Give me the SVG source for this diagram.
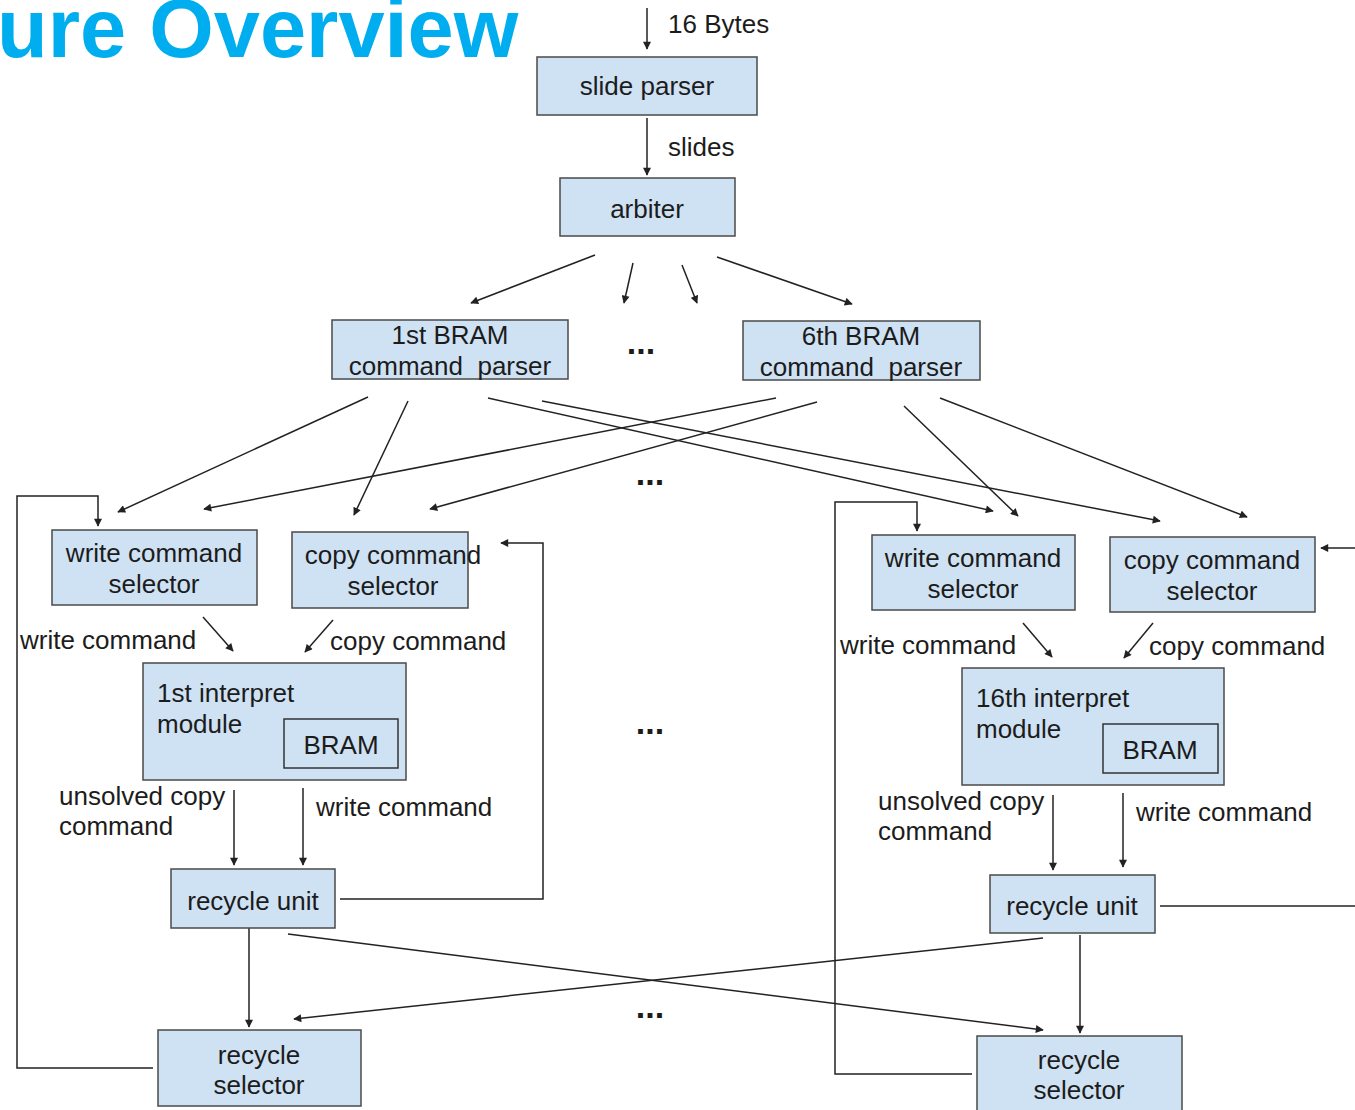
<svg xmlns="http://www.w3.org/2000/svg" width="1355" height="1110" viewBox="0 0 1355 1110">
  <defs>
    <style>
      .box { fill: #cfe2f3; stroke: #4a4a4a; stroke-width: 1.5; }
      .inner { fill: none; stroke: #333; stroke-width: 1.5; }
      .t { font-family: "Liberation Sans", Arial, sans-serif; font-size: 26px; fill: #1c1c1c; }
      .c { text-anchor: middle; }
      .dots { font-family: "Liberation Sans", Arial, sans-serif; font-size: 34px; font-weight: bold; fill: #1c1c1c; text-anchor: middle; }
      .title { font-family: "Liberation Sans", Arial, sans-serif; font-size: 83px; font-weight: bold; fill: #00aeef; }
      .ln { fill: none; stroke: #222; stroke-width: 1.5; }
      .ar { fill: none; stroke: #222; stroke-width: 1.5; marker-end: url(#head); }
    </style>
    <marker id="head" viewBox="0 0 10 10" refX="9" refY="5" markerWidth="9" markerHeight="8" markerUnits="userSpaceOnUse" orient="auto">
      <path d="M0,0 L10,5 L0,10 z" fill="#222"/>
    </marker>
  </defs>

  <rect width="1355" height="1110" fill="#ffffff"/>

  <!-- slide title (runs off the left edge of the slide) -->
  <text class="title" x="-3" y="57">ure Overview</text>

  <!-- connectors -->
  <g id="connectors">
    <!-- input and slide path -->
    <line class="ar" x1="647" y1="8" x2="647" y2="49"/>
    <line class="ar" x1="647" y1="118" x2="647" y2="175"/>
    <!-- arbiter fan-out -->
    <line class="ar" x1="595" y1="255" x2="471" y2="303"/>
    <line class="ar" x1="633" y1="263" x2="624" y2="303"/>
    <line class="ar" x1="682" y1="265" x2="697" y2="303"/>
    <line class="ar" x1="717" y1="257" x2="852" y2="304"/>
    <!-- 1st BRAM command parser outputs -->
    <line class="ar" x1="368" y1="397" x2="118" y2="512"/>
    <line class="ar" x1="408" y1="401" x2="354" y2="515"/>
    <line class="ar" x1="488" y1="398" x2="993" y2="511"/>
    <line class="ar" x1="542" y1="401" x2="1160" y2="521"/>
    <!-- 6th BRAM command parser outputs -->
    <line class="ar" x1="776" y1="398" x2="204" y2="509"/>
    <line class="ar" x1="817" y1="402" x2="430" y2="509"/>
    <line class="ar" x1="904" y1="406" x2="1018" y2="516"/>
    <line class="ar" x1="940" y1="398" x2="1247" y2="517"/>

    <!-- left column -->
    <polyline class="ar" points="153,1068 17,1068 17,496 98,496 98,526"/>
    <polyline class="ar" points="340,899 543,899 543,543 501,543"/>
    <line class="ar" x1="203" y1="617" x2="233" y2="651"/>
    <line class="ar" x1="333" y1="620" x2="305" y2="652"/>
    <line class="ar" x1="234" y1="790" x2="234" y2="865"/>
    <line class="ar" x1="303" y1="788" x2="303" y2="865"/>
    <line class="ar" x1="249" y1="928" x2="249" y2="1027"/>

    <!-- right column -->
    <polyline class="ar" points="972,1074 835,1074 835,502 917,502 917,531"/>
    <line class="ar" x1="1355" y1="548" x2="1321" y2="548"/>
    <line class="ar" x1="1023" y1="623" x2="1052" y2="657"/>
    <line class="ar" x1="1153" y1="623" x2="1124" y2="658"/>
    <line class="ar" x1="1053" y1="795" x2="1053" y2="870"/>
    <line class="ar" x1="1123" y1="793" x2="1123" y2="867"/>
    <line class="ln" x1="1160" y1="906" x2="1355" y2="906"/>
    <line class="ar" x1="1080" y1="935" x2="1080" y2="1033"/>

    <!-- recycle cross links -->
    <line class="ar" x1="288" y1="934" x2="1043" y2="1030"/>
    <line class="ar" x1="1043" y1="938" x2="294" y2="1019"/>
  </g>

  <!-- edge labels -->
  <g id="labels">
    <text class="t" x="668" y="33">16 Bytes</text>
    <text class="t" x="668" y="156">slides</text>
    <text class="t" x="20" y="649">write command</text>
    <text class="t" x="330" y="650">copy command</text>
    <text class="t" x="59" y="805">unsolved copy</text>
    <text class="t" x="59" y="835">command</text>
    <text class="t" x="316" y="816">write command</text>
    <text class="t" x="840" y="654">write command</text>
    <text class="t" x="1149" y="655">copy command</text>
    <text class="t" x="878" y="810">unsolved copy</text>
    <text class="t" x="878" y="840">command</text>
    <text class="t" x="1136" y="821">write command</text>
    <text class="dots" x="641" y="354">...</text>
    <text class="dots" x="650" y="485">...</text>
    <text class="dots" x="650" y="734">...</text>
    <text class="dots" x="650" y="1018">...</text>
  </g>

  <g id="slide-parser">
    <rect class="box" x="537" y="57" width="220" height="58"/>
    <text class="t c" x="647" y="95">slide parser</text>
  </g>

  <g id="arbiter">
    <rect class="box" x="560" y="178" width="175" height="58"/>
    <text class="t c" x="647" y="218">arbiter</text>
  </g>

  <g id="bram-parser-1">
    <rect class="box" x="332" y="320" width="236" height="59"/>
    <text class="t c" x="450" y="344">1st BRAM</text>
    <text class="t c" x="450" y="375" xml:space="preserve">command  parser</text>
  </g>

  <g id="bram-parser-6">
    <rect class="box" x="743" y="321" width="237" height="59"/>
    <text class="t c" x="861" y="345">6th BRAM</text>
    <text class="t c" x="861" y="376" xml:space="preserve">command  parser</text>
  </g>

  <g id="write-selector-1">
    <rect class="box" x="52" y="530" width="205" height="75"/>
    <text class="t c" x="154" y="562">write command</text>
    <text class="t c" x="154" y="593">selector</text>
  </g>

  <g id="copy-selector-1">
    <rect class="box" x="292" y="532" width="176" height="76"/>
    <text class="t c" x="393" y="564">copy command</text>
    <text class="t c" x="393" y="595">selector</text>
  </g>

  <g id="interpret-1">
    <rect class="box" x="143" y="663" width="263" height="117"/>
    <text class="t" x="157" y="702">1st interpret</text>
    <text class="t" x="157" y="733">module</text>
    <rect class="inner" x="284" y="719" width="114" height="49"/>
    <text class="t c" x="341" y="754">BRAM</text>
  </g>

  <g id="recycle-unit-1">
    <rect class="box" x="171" y="869" width="164" height="59"/>
    <text class="t c" x="253" y="910">recycle unit</text>
  </g>

  <g id="recycle-selector-1">
    <rect class="box" x="158" y="1030" width="203" height="76"/>
    <text class="t c" x="259" y="1064">recycle</text>
    <text class="t c" x="259" y="1094">selector</text>
  </g>

  <g id="write-selector-16">
    <rect class="box" x="872" y="535" width="203" height="75"/>
    <text class="t c" x="973" y="567">write command</text>
    <text class="t c" x="973" y="598">selector</text>
  </g>

  <g id="copy-selector-16">
    <rect class="box" x="1110" y="537" width="205" height="75"/>
    <text class="t c" x="1212" y="569">copy command</text>
    <text class="t c" x="1212" y="600">selector</text>
  </g>

  <g id="interpret-16">
    <rect class="box" x="962" y="668" width="262" height="117"/>
    <text class="t" x="976" y="707">16th interpret</text>
    <text class="t" x="976" y="738">module</text>
    <rect class="inner" x="1103" y="724" width="115" height="49"/>
    <text class="t c" x="1160" y="759">BRAM</text>
  </g>

  <g id="recycle-unit-16">
    <rect class="box" x="990" y="875" width="165" height="58"/>
    <text class="t c" x="1072" y="915">recycle unit</text>
  </g>

  <g id="recycle-selector-16">
    <rect class="box" x="977" y="1036" width="205" height="80"/>
    <text class="t c" x="1079" y="1069">recycle</text>
    <text class="t c" x="1079" y="1099">selector</text>
  </g>
</svg>
